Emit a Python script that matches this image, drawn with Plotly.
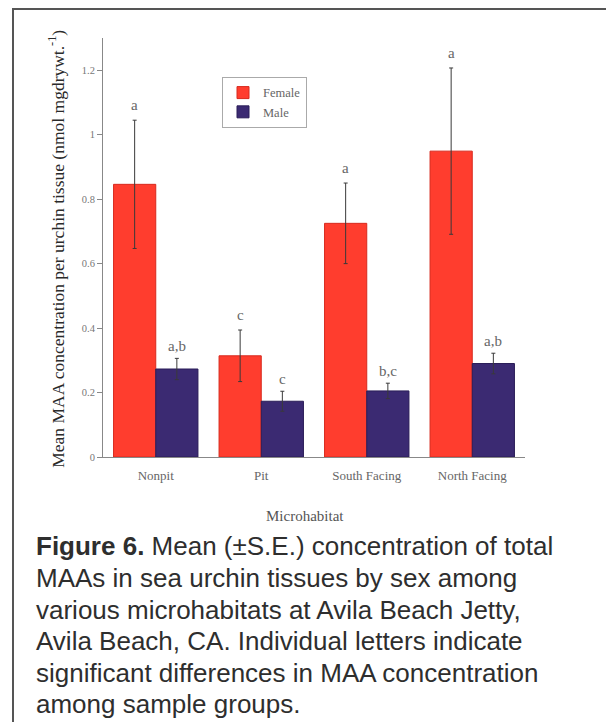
import plotly.graph_objects as go

categories = ["Nonpit", "Pit", "South Facing", "North Facing"]
female_mean = [0.846, 0.314, 0.725, 0.949]
female_se = [0.199, 0.080, 0.125, 0.258]
male_mean = [0.273, 0.173, 0.205, 0.290]
male_se = [0.033, 0.031, 0.024, 0.032]
female_letters = ["a", "c", "a", "a"]
male_letters = ["a,b", "c", "b,c", "a,b"]
y_ticks = [0, 0.2, 0.4, 0.6, 0.8, 1, 1.2]
y_ticklabels = ["0", "0.2", "0.4", "0.6", "0.8", "1", "1.2"]
caption_lines = [
    "<b>Figure 6.</b> Mean (±S.E.) concentration of total",
    "MAAs in sea urchin tissues by sex among",
    "various microhabitats at Avila Beach Jetty,",
    "Avila Beach, CA. Individual letters indicate",
    "significant differences in MAA concentration",
    "among sample groups.",
]

W, H = 606, 722
L, R, T, B = 103, 81, 38, 264.5
PW, PH = W - L - R, H - T - B


def px_x(px):
    return (px - L) / PW


def px_y(py):
    return (H - B - py) / PH


SERIF = "Liberation Serif, Times New Roman, serif"
SANS = "Liberation Sans, Arial, sans-serif"

fig = go.Figure()
fig.add_trace(go.Bar(
    name="Female", x=categories, y=female_mean,
    marker=dict(color="#ff3d2e", line=dict(color="#d82a1e", width=1)),
    error_y=dict(type="data", array=female_se, visible=True,
                 color="#3a3a3a", thickness=1, width=2),
))
fig.add_trace(go.Bar(
    name="Male", x=categories, y=male_mean,
    marker=dict(color="#3b2a72", line=dict(color="#2a1d58", width=1)),
    error_y=dict(type="data", array=male_se, visible=True,
                 color="#3a3a3a", thickness=1, width=2),
))

annotations = []
for i, c in enumerate(categories):
    annotations.append(dict(
        x=c, y=female_mean[i] + female_se[i], xref="x", yref="y",
        text=female_letters[i], showarrow=False, xshift=-21, yshift=5,
        yanchor="bottom", font=dict(family=SERIF, size=15, color="#666")))
    annotations.append(dict(
        x=c, y=male_mean[i] + male_se[i], xref="x", yref="y",
        text=male_letters[i], showarrow=False, xshift=21, yshift=2,
        yanchor="bottom", font=dict(family=SERIF, size=15, color="#666")))

# y-axis title
annotations.append(dict(
    x=px_x(56), y=px_y(249), xref="paper", yref="paper",
    text="Mean MAA concentration per urchin tissue (nmol mgdrywt.<sup>-1</sup>)",
    textangle=-90, showarrow=False, xanchor="center", yanchor="middle",
    font=dict(family=SERIF, size=17.5, color="#2a2a2a")))
# x-axis title
annotations.append(dict(
    x=px_x(305), y=px_y(517), xref="paper", yref="paper",
    text="Microhabitat", showarrow=False, xanchor="center", yanchor="middle",
    font=dict(family=SERIF, size=15, color="#555")))
# caption
for i, line in enumerate(caption_lines):
    annotations.append(dict(
        x=px_x(34), y=px_y(547 + i * 31.6), xref="paper", yref="paper",
        text=line, showarrow=False, xanchor="left", yanchor="middle",
        font=dict(family=SANS, size=26, color="#2e2e2e")))

shapes = [dict(
    type="rect", xref="paper", yref="paper",
    x0=px_x(13), x1=px_x(640), y0=px_y(9), y1=px_y(760),
    line=dict(color="#555", width=2), fillcolor="rgba(0,0,0,0)", layer="below")]

fig.update_layout(
    width=W, height=H,
    margin=dict(l=L, r=R, t=T, b=B, pad=0),
    paper_bgcolor="white", plot_bgcolor="white",
    barmode="group", bargap=0.2, bargroupgap=0,
    showlegend=True,
    legend=dict(x=px_x(222), y=px_y(77), xanchor="left", yanchor="top",
                bgcolor="white", bordercolor="#aaa", borderwidth=1,
                font=dict(family=SERIF, size=12.5, color="#666"),
                itemwidth=30, tracegroupgap=0),
    xaxis=dict(range=[-0.5, 3.5], showline=True, linecolor="#888", linewidth=1,
               ticks="outside", ticklen=6, tickcolor="rgba(0,0,0,0)",
               showgrid=False, zeroline=False,
               tickfont=dict(family=SERIF, size=13, color="#666")),
    yaxis=dict(range=[0, 1.3], showline=True, linecolor="#888", linewidth=1,
               ticks="outside", ticklen=5, tickcolor="#888",
               tickvals=y_ticks, ticktext=y_ticklabels,
               showgrid=False, zeroline=False,
               tickfont=dict(family=SERIF, size=10.5, color="#777")),
    annotations=annotations, shapes=shapes,
)

fig.write_html("out.html")
